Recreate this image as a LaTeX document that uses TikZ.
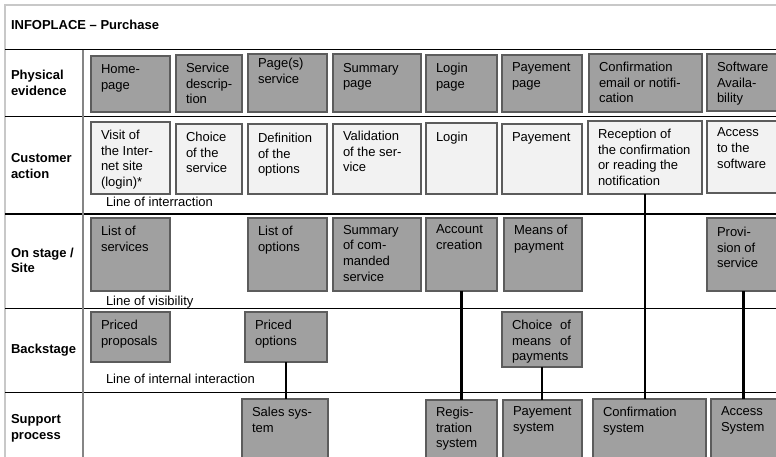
\documentclass[tikz,border=0pt]{standalone}
\usepackage{fontspec}
\setmainfont{Liberation Sans}
\definecolor{boxgray}{HTML}{A0A0A0}
\definecolor{boxlight}{HTML}{F2F2F2}
\definecolor{boxline}{HTML}{5C5C5C}
\definecolor{framegray}{HTML}{C8C8C8}
\definecolor{sepgray}{HTML}{858585}
\tikzset{
  gbox/.style={draw=boxline, fill=boxgray, line width=1.1pt, inner sep=0pt, outer sep=0pt},
  lbox/.style={draw=boxline, fill=boxlight, line width=1.1pt, inner sep=0pt, outer sep=0pt},
  txt/.style={inner sep=0pt, outer sep=0pt, align=left, font=\fontsize{13}{15.7}\selectfont},
  lab/.style={inner sep=0pt, outer sep=0pt, align=left, font=\fontsize{13}{15.5}\selectfont\bfseries},
  linetxt/.style={inner sep=0pt, outer sep=0pt, font=\fontsize{13}{15.5}\selectfont},
  rowline/.style={draw=black, line width=1pt},
  conn/.style={draw=black, line width=2.6pt},
}
\newcommand\mybox[8]{%
  \node[#2, anchor=north west, minimum width={#5-#3}, minimum height={#6-#4}] (#1) at (#3,#4) {};
  \node[txt, anchor=north west] (#1-t) at ([xshift=10pt, yshift=-#7pt]#1.north west) {#8};
}
\begin{document}
\begin{tikzpicture}[x=1pt, y=-1pt]
\useasboundingbox[fill=white] (0,0) rectangle (776,457);
% frame
\coordinate (ftl) at (5,5);
\coordinate (ftr) at (776,5);
\coordinate (fbl) at (5,457);
\draw[framegray, line width=1.2pt] (fbl) -- (ftl) -- (ftr);
% row lines
\foreach \yy in {50,117,214,308,392} {
  \draw[rowline] (5,\yy) -- (776,\yy);
}
% separator
\draw[sepgray, line width=2pt] (83,50) -- (83,457);
% title and labels
\node[lab, anchor=base west] (title) at (11,30) {INFOPLACE -- Purchase};
\node[lab, anchor=north west] (l1) at (11,70.5) {Physical\\evidence};
\node[lab, anchor=north west] (l2) at (11,153.5) {Customer\\action};
\node[lab, anchor=north west] (l3) at (11,248) {On stage /\\Site};
\node[lab, anchor=north west] (l4) at (11,344.5) {Backstage};
\node[lab, anchor=north west] (l5) at (11,414.5) {Support\\process};
% line texts
\node[linetxt, anchor=base west] (li1) at (106,207) {Line of interraction};
\node[linetxt, anchor=base west] (li2) at (106,305) {Line of visibility};
\node[linetxt, anchor=base west] (li3) at (106,383) {Line of internal interaction};
% physical evidence
\mybox{ph1}{gbox}{91}{56}{170}{112}{9}{Home-\\page}
\mybox{ph2}{gbox}{176}{55}{242}{112}{8}{Service\\descrip-\\tion}
\mybox{ph3}{gbox}{248}{54}{327}{112}{4}{Page(s)\\service}
\mybox{ph4}{gbox}{333}{54}{421}{112}{9}{Summary\\page}
\mybox{ph5}{gbox}{426}{55}{497}{112}{8}{Login\\page}
\mybox{ph6}{gbox}{502}{55}{582}{112}{8}{Payement\\page}
\mybox{ph7}{gbox}{589}{54}{702}{112}{8}{Confirmation\\email or notifi-\\cation}
\mybox{ph8}{gbox}{707}{54}{780}{111}{8}{Software\\Availa-\\bility}
% customer action
\mybox{ca1}{lbox}{91}{122}{170}{194}{8}{Visit of\\the Inter-\\net site\\(login)*}
\mybox{ca2}{lbox}{176}{124}{242}{194}{8}{Choice\\of the\\service}
\mybox{ca3}{lbox}{248}{124}{327}{194}{9}{Definition\\of the\\options}
\mybox{ca4}{lbox}{333}{124}{421}{194}{7}{Validation\\of the ser-\\vice}
\mybox{ca5}{lbox}{426}{123}{497}{194}{9}{Login}
\mybox{ca6}{lbox}{502}{124}{582}{194}{9}{Payement}
\mybox{ca7}{lbox}{588}{121}{702}{194}{8}{Reception of\\the confirmation\\or reading the\\notification}
\mybox{ca8}{lbox}{707}{121}{780}{193}{7}{Access\\to the\\software}
% on stage
\mybox{os1}{gbox}{91}{218}{170}{291}{8}{List of\\services}
\mybox{os3}{gbox}{248}{218}{327}{291}{8}{List of\\options}
\mybox{os4}{gbox}{333}{218}{421}{291}{7}{Summary\\of com-\\manded\\service}
\mybox{os5}{gbox}{426}{218}{497}{291}{7}{Account\\creation}
\mybox{os6}{gbox}{504}{218}{582}{291}{7}{Means of\\payment}
\mybox{os8}{gbox}{707}{218}{780}{291}{9}{Provi-\\sion of\\service}
% backstage
\mybox{bs1}{gbox}{91}{312}{170}{362}{8}{Priced\\proposals}
\mybox{bs3}{gbox}{245}{312}{327}{362}{8}{Priced\\options}
\mybox{bs6}{gbox}{502}{312}{582}{367}{8}{\makebox[59pt][s]{Choice of}\\\makebox[59pt][s]{means of}\\payments}
% support
\mybox{sp3}{gbox}{242}{399}{328}{465}{8}{Sales sys-\\tem}
\mybox{sp5}{gbox}{426}{400}{497}{465}{7}{Regis-\\tration\\system}
\mybox{sp6}{gbox}{503}{400}{582}{465}{7}{Payement\\system}
\mybox{sp7}{gbox}{593}{399}{706}{465}{8}{Confirmation\\system}
\mybox{sp8}{gbox}{711}{399}{780}{465}{8}{Access\\System}
% connectors
\draw[conn] (bs3.south) -- (bs3.south |- sp3.north);
\draw[conn] (os5.south) -- (os5.south |- sp5.north);
\draw[conn] (bs6.south) -- (bs6.south |- sp6.north);
\draw[conn] (ca7.south) -- (ca7.south |- sp7.north);
\draw[conn] (os8.south) -- (os8.south |- sp8.north);
\end{tikzpicture}
\end{document}
